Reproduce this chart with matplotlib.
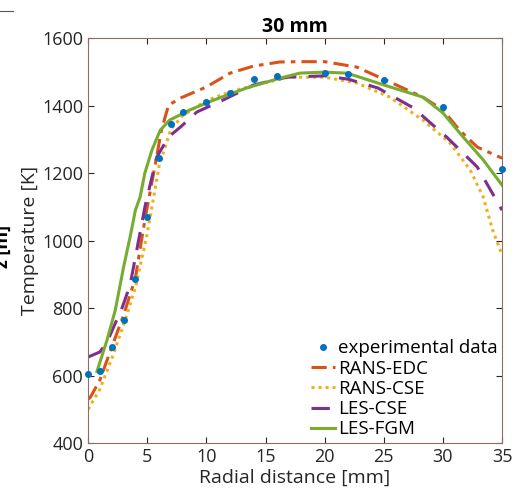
import matplotlib
matplotlib.use('Agg')

import matplotlib.pyplot as plt
from matplotlib.lines import Line2D

plt.rcParams['font.family'] = ['Open Sans', 'DejaVu Sans']

# experimental data
exp_r = [0, 1, 2, 3, 4, 5, 6, 7, 8, 10, 12, 14, 16, 20, 22, 25, 30, 35]
exp_T = [604, 615, 684, 764, 886, 1070, 1244, 1345, 1381, 1410, 1437, 1478, 1487, 1496, 1493, 1475, 1395, 1212]

# RANS-EDC
edc_r = [0, 0.2, 1, 2, 3, 4, 4.8, 5.7, 6.2, 6.8, 7.8, 10, 12, 14, 16.2, 18, 20, 22.7, 25, 28.3, 30, 31.4, 32.9, 35]
edc_T = [530, 536, 587, 684, 779, 889, 1061, 1230, 1327, 1401, 1422, 1455, 1496, 1517, 1529, 1530, 1530, 1514, 1478, 1425, 1387, 1327, 1277, 1244]

# RANS-CSE
cse_r = [0, 1, 2, 3, 4, 5, 6, 7, 8, 10, 12, 14, 17, 20, 22.7, 25.5, 28.3, 30.6, 32.3, 33.4, 34.2, 35]
cse_T = [500, 560, 650, 750, 860, 1020, 1220, 1330, 1370, 1415, 1440, 1460, 1484, 1484, 1467, 1425, 1357, 1289, 1209, 1129, 1031, 957]

# LES-CSE
les_cse_r = [0, 0.4, 1.0, 1.6, 2.9, 3.55, 4.6, 4.8, 5.8, 6.8, 7.8, 9.2, 11.4, 14, 16.8, 20, 22, 24.5, 27.5, 30.3, 32.9, 35]
les_cse_T = [655, 661, 670, 699, 803, 868, 1061, 1099, 1247, 1307, 1336, 1381, 1416, 1461, 1484, 1488, 1478, 1452, 1393, 1307, 1218, 1090]

# LES-FGM
fgm_r = [0.75, 1.6, 2.3, 3.0, 3.55, 4.0, 4.4, 4.8, 5.4, 6.1, 6.9, 8.6, 10.6, 13.4, 16.2, 17.9, 19.9, 21.9, 25, 28.3, 30, 31.7, 33.4, 35]
fgm_T = [612, 705, 794, 921, 1010, 1090, 1129, 1200, 1268, 1327, 1357, 1387, 1416, 1452, 1481, 1496, 1499, 1496, 1461, 1425, 1378, 1307, 1239, 1164]

fig = plt.figure(figsize=(5.15, 4.94), dpi=100)
ax = fig.add_axes([0.171, 0.103, 0.804, 0.820])

ax.plot(edc_r, edc_T, color='#d95319', lw=2.2, dashes=(5, 2, 1.5, 2), label='RANS-EDC')
ax.plot(cse_r, cse_T, color='#edb120', lw=2.2, ls=(0, (1, 1.3)), label='RANS-CSE')
ax.plot(les_cse_r, les_cse_T, color='#7e2f8e', lw=2.2, dashes=(6, 4), label='LES-CSE')
ax.plot(fgm_r, fgm_T, color='#77ac30', lw=2.2, label='LES-FGM')
ax.plot(exp_r, exp_T, ls='none', marker='.', ms=8, color='#0072bd', label='experimental data', clip_on=False, zorder=5)

ax.set_xlim(0, 35)
ax.set_ylim(400, 1600)
ax.set_xticks(range(0, 36, 5))
ax.set_yticks(range(400, 1601, 200))
ax.tick_params(direction='in', top=True, right=True, labelsize=13, colors='#262626', length=4)
for s in ax.spines.values():
    s.set_color('#8a6f66')
    s.set_linewidth(0.8)

ax.set_xlabel('Radial distance [mm]', fontsize=14, color='#262626', labelpad=2)
ax.set_ylabel('Temperature [K]', fontsize=14, color='#262626', labelpad=2)
ax.set_title('30 mm', fontsize=14, fontweight='bold', pad=4)

handles, labels = ax.get_legend_handles_labels()
order = [4, 0, 1, 2, 3]
ax.legend([handles[i] for i in order], [labels[i] for i in order], loc='lower right',
          frameon=False, fontsize=13.5, handlelength=1.3, handletextpad=0.15,
          labelspacing=0.12, borderaxespad=0.05, borderpad=0.2)

# fragments of neighbouring panel cut at the left edge
fig.text(-0.012, 0.50, 'z [m]', rotation=90, fontsize=13, fontweight='bold', va='center', ha='left')
fig.add_artist(Line2D([0, 0.025], [0.978, 0.978], color='#555555', lw=0.8))

fig.savefig('out.png', dpi=100)
plt.close(fig)
